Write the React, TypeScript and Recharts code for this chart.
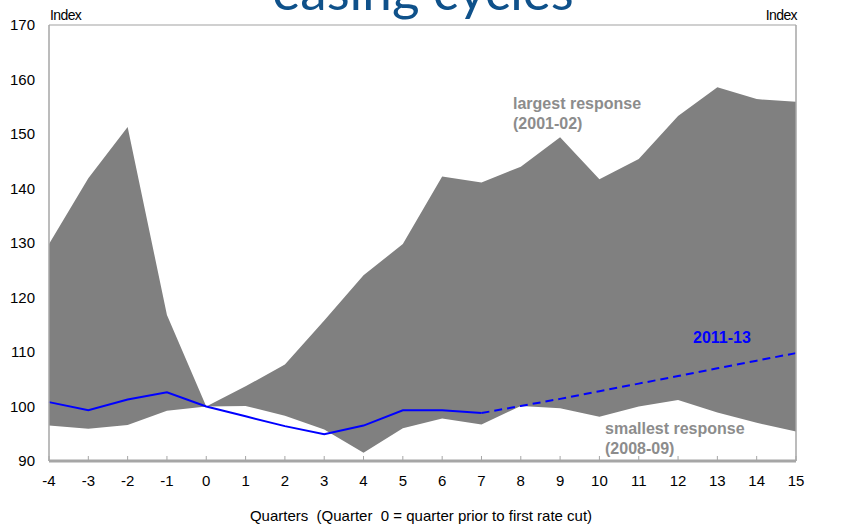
import {
  Area,
  CartesianGrid,
  ComposedChart,
  Line,
  XAxis,
  YAxis,
} from 'recharts';

// Quarters relative to the quarter before the first rate cut
const quarters = [-4, -3, -2, -1, 0, 1, 2, 3, 4, 5, 6, 7, 8, 9, 10, 11, 12, 13, 14, 15];

// Largest response (2001-02), upper edge of the shaded range
const largest = [
  129.8, 141.9, 151.3, 116.8, 100, 103.7, 107.7, 115.8, 124.1, 129.8,
  142.2, 141.1, 144.0, 149.4, 141.7, 145.4, 153.3, 158.6, 156.4, 155.9,
];

// Smallest response (2008-09), lower edge of the shaded range
const smallest = [
  96.5, 95.9, 96.6, 99.2, 100, 100.1, 98.3, 95.8, 91.5, 96.0,
  97.8, 96.7, 100.1, 99.7, 98.1, 100.0, 101.2, 98.9, 97.0, 95.4,
];

// 2011-13 cycle: actual to quarter 7, projection afterwards
const actual = [100.8, 99.3, 101.3, 102.6, 100, 98.2, 96.4, 94.9, 96.5, 99.3, 99.3, 98.8];
const projected = [98.8, 100.1, 101.4, 102.8, 104.2, 105.6, 107.0, 108.4, 109.8];

const yTicks = [90, 100, 110, 120, 130, 140, 150, 160, 170];

const data = quarters.map((q, i) => ({
  q,
  range: [smallest[i], largest[i]],
  actual: i < actual.length ? actual[i] : null,
  projected: i >= actual.length - 1 ? projected[i - (actual.length - 1)] : null,
}));

const FONT = '"Liberation Sans", Arial, sans-serif';
const FRAME = '#a6a6a6';
const BLUE = '#0000ff';
const LABEL_GREY = '#8c8c8c';

function QuarterTick(props: any) {
  const { x, y, payload } = props;
  return (
    <g>
      <line x1={x} x2={x} y1={y} y2={y - 5} stroke={FRAME} strokeWidth={1} />
      <text x={x} y={y + 25} textAnchor="middle" fontSize={15} fontFamily={FONT} fill="#000">
        {payload.value}
      </text>
    </g>
  );
}

const note = (left: number, top: number, color: string): React.CSSProperties => ({
  position: 'absolute',
  left,
  top,
  color,
  fontFamily: FONT,
  fontWeight: 700,
  fontSize: 16,
  lineHeight: '20px',
  whiteSpace: 'nowrap',
});

const indexStyle: React.CSSProperties = {
  position: 'absolute',
  top: 7,
  fontFamily: FONT,
  fontSize: 14,
  letterSpacing: -0.6,
};

export default function App() {
  return (
    <div style={{ position: 'absolute', left: 0, top: 0, width: 842, height: 528, background: '#fff', overflow: 'hidden' }}>
      <ComposedChart
        width={842}
        height={528}
        data={data}
        margin={{ top: 25, right: 0, bottom: 0, left: 0 }}
      >
        <CartesianGrid vertical={false} stroke="#c0c0c0" strokeWidth={1.5} />
        <XAxis
          dataKey="q"
          type="number"
          domain={[-4, 15]}
          ticks={quarters}
          interval={0}
          height={67}
          tickSize={0}
          tickMargin={0}
          tick={<QuarterTick />}
          axisLine={{ stroke: FRAME, strokeWidth: 3 }}
        />
        <YAxis
          yAxisId="left"
          orientation="left"
          domain={[90, 170]}
          ticks={yTicks}
          width={49}
          tickSize={0}
          tickMargin={14}
          tick={{ fill: '#000', fontSize: 15, fontFamily: FONT }}
          axisLine={{ stroke: FRAME, strokeWidth: 1.5 }}
        />
        <YAxis
          yAxisId="right"
          orientation="right"
          domain={[90, 170]}
          ticks={yTicks}
          width={46}
          tickSize={0}
          tickMargin={14}
          tick={{ fill: '#000', fontSize: 15, fontFamily: FONT }}
          axisLine={{ stroke: FRAME, strokeWidth: 1.5 }}
        />
        <Area
          yAxisId="left"
          dataKey="range"
          stroke="none"
          fill="#808080"
          fillOpacity={1}
          isAnimationActive={false}
        />
        <Line
          yAxisId="left"
          dataKey="actual"
          stroke={BLUE}
          strokeWidth={2}
          dot={false}
          isAnimationActive={false}
        />
        <Line
          yAxisId="left"
          dataKey="projected"
          stroke={BLUE}
          strokeWidth={2}
          strokeDasharray="8 5"
          dot={false}
          isAnimationActive={false}
        />
      </ComposedChart>

      <div
        style={{
          position: 'absolute',
          left: 0,
          width: 846,
          top: -42,
          textAlign: 'center',
          color: '#0f518a',
          fontFamily: 'Lato, "Open Sans", sans-serif',
          fontSize: 53,
          lineHeight: '64px',
        }}
      >
        easing cycles
      </div>
      <div style={{ ...indexStyle, left: 50 }}>Index</div>
      <div style={{ ...indexStyle, right: 45 }}>Index</div>

      <div style={note(513, 94, LABEL_GREY)}>
        largest response
        <br />
        (2001-02)
      </div>
      <div style={note(605, 419, LABEL_GREY)}>
        smallest response
        <br />
        (2008-09)
      </div>
      <div style={note(693, 328, BLUE)}>2011-13</div>

      <div
        style={{
          position: 'absolute',
          left: 0,
          width: 842,
          top: 507,
          textAlign: 'center',
          fontFamily: FONT,
          fontSize: 15,
          whiteSpace: 'pre',
        }}
      >
        {'Quarters  (Quarter  0 = quarter prior to first rate cut)'}
      </div>
    </div>
  );
}
